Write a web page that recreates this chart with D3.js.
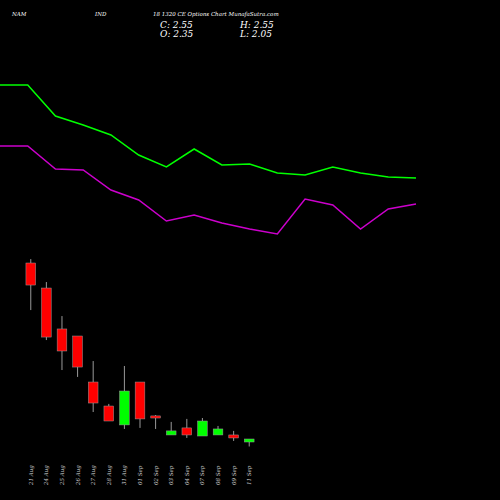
<!DOCTYPE html>
<html><head><meta charset="utf-8">
<script src="https://cdn.jsdelivr.net/npm/d3@7"></script>
<style>body{margin:0;background:#000}</style>
</head><body>
<div id="chart"></div>
<script>
const dates = ['21 Aug','24 Aug','25 Aug','26 Aug','27 Aug','28 Aug','31 Aug','01 Sep','02 Sep','03 Sep','04 Sep','07 Sep','08 Sep','09 Sep','11 Sep'];
const opens  = [14.29,12.62,9.89,9.42,6.35,4.75,3.49,6.35,4.09,2.82,3.29,2.75,2.82,2.82,2.35];
const closes = [12.82,9.35,8.42,7.35,4.95,3.75,5.75,3.89,3.95,3.09,2.82,3.75,3.22,2.62,2.55];
const highs  = [14.55,13.02,10.75,9.42,7.75,4.89,7.42,6.35,4.15,3.69,3.89,3.95,3.42,3.09,2.55];
const lows   = [11.15,9.15,7.15,6.69,4.35,3.75,3.22,3.29,3.22,2.82,2.62,2.75,2.82,2.42,2.05];
const upperLine = [82.5,82.5,67,62.5,57.5,47.5,41.5,50.5,42.5,43,38.5,37.5,41.5,38.5,36.5,36];
const lowerLine = [52,52,40.5,40,30,25,14.5,17.5,13.5,10.5,8,25.5,22.5,10.5,20.5,23];

const W = 500, H = 500;
const svg = d3.select('#chart').append('svg').attr('width', W).attr('height', H)
  .style('background', '#000');

// candles
const x = d3.scaleBand().domain(dates).range([20, 260]).padding(0.38);
const y = d3.scaleLinear().domain([2.35, 14.29]).range([442, 263]);

const g = svg.append('g');
dates.forEach((d, i) => {
  const cx = x(d) + x.bandwidth() / 2;
  const up = closes[i] >= opens[i];
  g.append('line').attr('x1', cx).attr('x2', cx)
    .attr('y1', y(highs[i])).attr('y2', y(lows[i]))
    .attr('stroke', '#999').attr('stroke-width', 1);
  const top = y(Math.max(opens[i], closes[i]));
  const bot = y(Math.min(opens[i], closes[i]));
  g.append('rect').attr('x', x(d)).attr('width', x.bandwidth())
    .attr('y', top).attr('height', Math.max(bot - top, 1.5))
    .attr('fill', up ? '#00ff00' : '#ff0000')
    .attr('stroke', '#999').attr('stroke-width', 0.5);
  g.append('text')
    .attr('transform', `translate(${cx + 2},485) rotate(-90)`)
    .attr('fill', '#ccc').attr('font-size', 5.5)
    .attr('font-family', 'DejaVu Serif').attr('font-style', 'italic')
    .text(d);
});

// indicator lines
const lx = d3.scaleLinear().domain([0, upperLine.length - 1]).range([0, 416]);
const ly = d3.scaleLinear().domain([0, 125]).range([250, 0]);
const line = d3.line().x((d, i) => lx(i)).y(d => ly(d));
svg.append('path').datum(upperLine).attr('fill', 'none')
  .attr('stroke', '#00ff00').attr('stroke-width', 1.5).attr('d', line);
svg.append('path').datum(lowerLine).attr('fill', 'none')
  .attr('stroke', '#cc00cc').attr('stroke-width', 1.5).attr('d', line);

// header
const hdr = (t, xx, yy, s) => svg.append('text').attr('x', xx).attr('y', yy)
  .attr('fill', '#fff').attr('font-size', s)
  .attr('font-family', 'DejaVu Serif').attr('font-style', 'italic').text(t);
hdr('NAM', 12, 16, 5.5);
hdr('IND', 95, 16, 5.5);
hdr('18 1320  CE Options  Chart MunafaSutra.com', 153, 16, 5.5);
hdr('C: 2.55', 160, 28, 9);
hdr('H: 2.55', 240, 28, 9);
hdr('O: 2.35', 160, 37, 9);
hdr('L: 2.05', 240, 37, 9);
</script>
</body></html>
